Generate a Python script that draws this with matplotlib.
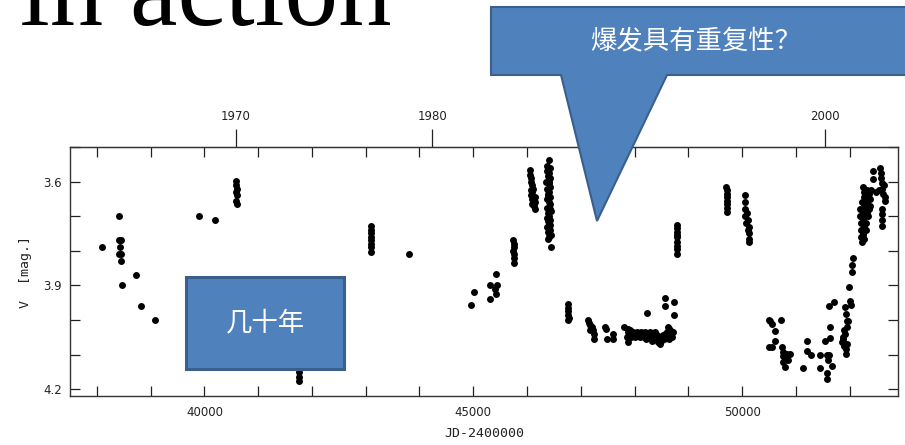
import numpy as np
import matplotlib.pyplot as plt
from matplotlib.patches import Polygon, Rectangle
from matplotlib.ticker import MultipleLocator, FixedLocator, NullLocator

# light curve (JD-2400000, V mag)
jd_1960s = [38098, 38420, 38415, 38450, 38435, 38405, 38450, 38440, 38723, 38470, 38829, 39083]
v_1960s = [3.79, 3.70, 3.77, 3.77, 3.79, 3.81, 3.81, 3.83, 3.87, 3.90, 3.96, 4.00]

jd_1970s = [39901, 40204, 40595, 40592, 40598, 40594, 40600, 40596, 40598,
            41752, 41756, 41754, 41750,
            43099, 43097, 43101, 43098, 43100, 43096, 43102, 43099, 43805]
v_1970s = [3.70, 3.71, 3.597, 3.61, 3.62, 3.63, 3.64, 3.655, 3.665,
           4.12, 4.15, 4.165, 4.178,
           3.729, 3.74, 3.75, 3.76, 3.77, 3.78, 3.79, 3.804, 3.81]

jd_1980s = [44958, 45008, 45317, 45320, 45410, 45415, 45428, 45440,
            45745, 45750, 45752, 45748, 45755, 45750, 45753,
            46050, 46060, 46070, 46080, 46090, 46080, 46100, 46070, 46100, 46110, 46090,
            46130, 46150, 46140, 46120, 46140,
            46400, 46380, 46420, 46370, 46410, 46390, 46430, 46360, 46400, 46420, 46380,
            46410, 46390, 46430, 46370, 46400, 46420, 46380, 46410, 46440, 46390, 46400,
            46370, 46420, 46390, 46410, 46430, 46380, 46400, 46420, 46390, 46410, 46440,
            46400, 46385, 46415, 46395, 46425, 46405, 46455]
v_1980s = [3.958, 3.92, 3.90, 3.94, 3.91, 3.925, 3.866, 3.90,
           3.768, 3.78, 3.79, 3.80, 3.81, 3.82, 3.835,
           3.567, 3.58, 3.59, 3.60, 3.61, 3.625, 3.63, 3.64, 3.65, 3.66, 3.665,
           3.67, 3.68, 3.66, 3.62, 3.645,
           3.538, 3.556, 3.56, 3.57, 3.575, 3.585, 3.59, 3.60, 3.605, 3.615, 3.62,
           3.63, 3.635, 3.645, 3.65, 3.66, 3.665, 3.675, 3.68, 3.685, 3.69, 3.70,
           3.705, 3.71, 3.715, 3.72, 3.725, 3.73, 3.735, 3.74, 3.745, 3.75, 3.755,
           3.76, 3.765, 3.60, 3.64, 3.68, 3.72, 3.789]

jd_quiet = [46760, 46765, 46770, 46768, 46775, 46770,
            47140, 47150, 47180, 47200, 47230, 47250, 47250, 47180,
            47455, 47470, 47480, 47600, 47603, 47795,
            47860, 47870, 47880, 47900, 47920, 47940, 47960, 47980, 48000, 48020,
            48040, 48060, 48080, 48100, 48120, 48140, 48160, 48180, 48200, 48220,
            48240, 48260, 48280, 48300, 48320, 48340, 48360, 48380, 48400, 48420,
            48440, 48460, 48480, 48500, 48520, 48540, 48560, 48580, 48600, 48620,
            48640, 48660, 48680, 48700, 48720, 48620, 48640, 47880,
            48230, 48570, 48570, 48743, 48725,
            48787, 48785, 48789, 48786, 48788, 48787, 48785, 48789, 48788]
v_quiet = [3.953, 3.965, 3.975, 3.985, 3.995, 4.00,
           4.00, 4.01, 4.015, 4.02, 4.03, 4.04, 4.055, 4.03,
           4.02, 4.026, 4.055, 4.04, 4.055, 4.02,
           4.05, 4.065, 4.035, 4.045, 4.03, 4.05, 4.04, 4.035, 4.05, 4.04,
           4.035, 4.045, 4.04, 4.05, 4.035, 4.045, 4.04, 4.05, 4.035, 4.055,
           4.04, 4.05, 4.035, 4.045, 4.06, 4.04, 4.05, 4.035, 4.055, 4.045,
           4.065, 4.05, 4.07, 4.06, 4.045, 4.055, 4.04, 4.05, 4.035, 4.045,
           4.055, 4.03, 4.04, 4.05, 4.035, 4.02, 4.025, 4.025,
           3.98, 3.936, 3.96, 3.947, 3.986,
           3.726, 3.735, 3.745, 3.755, 3.76, 3.775, 3.785, 3.795, 3.808]

jd_1990s = [49710, 49714, 49718, 49712, 49720, 49716, 49722, 49718,
            50060, 50058, 50062, 50060, 50064, 50100, 50110, 50120, 50125, 50131, 50115, 50128,
            50509, 50509, 50522, 50553, 50615, 50615, 50553, 50720,
            50740, 50770, 50800, 50770, 50830, 50895, 50800, 50760, 50850,
            51142, 51204, 51204, 51278, 51452, 51452,
            51545, 51588, 51637, 51637, 51607, 51668, 51575, 51575, 51625, 51712, 51625]
v_1990s = [3.615, 3.625, 3.635, 3.645, 3.655, 3.665, 3.675, 3.688,
           3.64, 3.66, 3.68, 3.70, 3.72, 3.69, 3.71, 3.73, 3.75, 3.776, 3.74, 3.765,
           4.0, 4.078, 4.002, 4.011, 4.031, 4.06, 4.079, 4.0,
           4.079, 4.093, 4.108, 4.122, 4.098, 4.098, 4.135, 4.105, 4.115,
           4.139, 4.06, 4.09, 4.1, 4.1, 4.139,
           4.06, 4.1, 4.021, 4.052, 4.117, 4.132, 4.153, 4.17, 3.961, 3.949, 4.1]

jd_2000s = [51997, 52010, 52020, 51917, 51925, 51960, 51975, 51885, 51870, 51945, 51930, 51940,
            51900, 51910, 51880, 51950, 51890, 51860,
            52058, 52046, 52046,
            52195, 52200, 52210, 52205, 52220, 52230, 52240, 52250, 52260, 52255, 52270, 52280,
            52290, 52300, 52310, 52320, 52330, 52345, 52360, 52380, 52225, 52265, 52240, 52215,
            52275, 52250, 52260, 52275, 52290, 52300, 52320, 52340, 52360, 52380, 52400,
            52443, 52443,
            52567, 52580, 52590, 52600, 52610, 52625, 52640, 52650, 52660, 52600, 52598,
            52598, 52598, 52540, 52500]
v_2000s = [3.905, 3.944, 3.958, 3.963, 3.982, 4.002, 4.002, 4.05, 4.06, 4.069, 4.098, 4.084,
           4.03, 4.04, 4.055, 4.02, 4.075, 4.065,
           3.82, 3.84, 3.86,
           3.68, 3.70, 3.72, 3.74, 3.76, 3.775, 3.69, 3.71, 3.73, 3.75, 3.665, 3.68,
           3.70, 3.72, 3.74, 3.66, 3.69, 3.70, 3.68, 3.67, 3.66, 3.765, 3.755, 3.70,
           3.73, 3.616, 3.63, 3.645, 3.665, 3.64, 3.625, 3.63, 3.635, 3.65, 3.625,
           3.568, 3.592,
           3.56, 3.575, 3.59, 3.605, 3.62, 3.635, 3.61, 3.645, 3.655, 3.68, 3.695,
           3.71, 3.727, 3.625, 3.63]

year_ticks = [1970, 1980, 1990, 2000]

W, H = 905, 445
fig = plt.figure(figsize=(W / 100, H / 100), dpi=100)
ax = fig.add_axes([70 / W, 1 - 396 / H, 828 / W, 249 / H])

jd = jd_1960s + jd_1970s + jd_1980s + jd_quiet + jd_1990s + jd_2000s
v = v_1960s + v_1970s + v_1980s + v_quiet + v_1990s + v_2000s
ax.plot(jd, v, 'o', color='k', ms=5.0, mew=0)

ax.set_xlim(37500, 52900)
ax.set_ylim(4.22, 3.5)
ax.xaxis.set_major_locator(FixedLocator([40000, 45000, 50000]))
ax.xaxis.set_minor_locator(MultipleLocator(1000))
ax.yaxis.set_major_locator(FixedLocator([3.6, 3.9, 4.2]))
ax.yaxis.set_minor_locator(MultipleLocator(0.1))
ax.tick_params(which='both', direction='in', length=7, width=0.9, top=True, right=True,
               labelsize=8.5, colors='#222222')
ax.tick_params(axis='x', pad=7)
ax.tick_params(axis='y', pad=6)
for s in ax.spines.values():
    s.set_color('#333333')
    s.set_linewidth(1.0)
ax.set_xlabel('JD-2400000', family='DejaVu Sans Mono', fontsize=9.5, labelpad=6, color='#222222')
ax.set_ylabel('V  [mag.]', family='DejaVu Sans Mono', fontsize=9.5, labelpad=8, color='#222222')


def jd2yr(x):
    return 1970 + (np.asarray(x) - 40587.5) / 365.25


def yr2jd(y):
    return 40587.5 + (np.asarray(y) - 1970) * 365.25


sec = ax.secondary_xaxis('top', functions=(jd2yr, yr2jd))
sec.set_xticks(year_ticks)
sec.xaxis.set_minor_locator(NullLocator())
sec.tick_params(direction='out', length=13, width=0.9, labelsize=8.5, pad=4.5, colors='#222222')
sec.spines['top'].set_color('#333333')


def fx(px):
    return px / W


def fy(py):
    return 1 - py / H


# slide title, cut off at the top
fig.text(fx(20), fy(25), 'in action', family='Liberation Serif', fontsize=77,
         va='baseline', ha='left', color='black')

blue = '#4F81BD'
edge = '#3A5F8C'
callout = [(491, 7), (912, 7), (912, 75), (667, 75), (597, 221), (561, 75), (491, 75)]
fig.add_artist(Polygon([(fx(a), fy(b)) for a, b in callout], closed=True,
                       transform=fig.transFigure, facecolor=blue, edgecolor=edge, lw=1.5))
fig.text(fx(696), fy(42), '爆发具有重复性？', family=['Noto Sans CJK SC', 'DejaVu Sans'],
         fontsize=19, color='white', ha='center', va='center', weight='light')

fig.add_artist(Rectangle((fx(186), fy(369)), (344 - 186) / W, (369 - 277) / H,
                         transform=fig.transFigure, facecolor=blue, edgecolor=edge, lw=2.2))
fig.text(fx(265), fy(323), '几十年', family=['Noto Sans CJK SC', 'DejaVu Sans'],
         fontsize=19, color='white', ha='center', va='center', weight='light')

fig.savefig('out.png', dpi=100)
